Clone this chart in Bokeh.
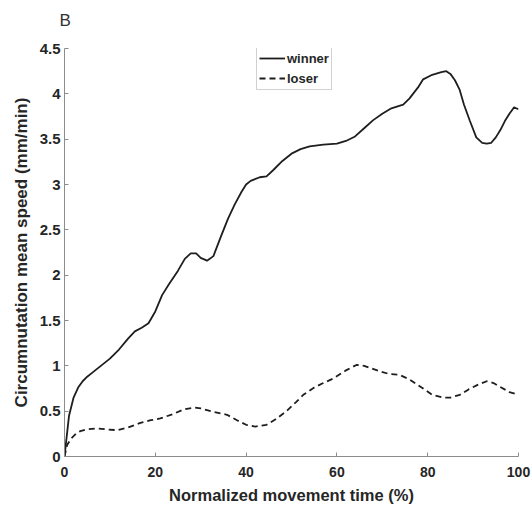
from bokeh.plotting import figure
from bokeh.models import Range1d, FixedTicker, Legend, LegendItem
from bokeh.embed import file_html
from bokeh.resources import INLINE

# ---- data ----
winner_x = [0, 1, 2, 3, 4, 5, 6, 8, 10, 12, 14, 15.5, 17, 18.5, 20, 21.5, 23, 25, 26.5, 27.8,
            29, 30, 31.4, 32.8, 34.4, 36, 37.5, 39, 40, 41, 43, 44.5, 46, 48, 50, 52, 54, 57,
            60, 62, 64, 66, 68, 70, 72, 74.6, 76, 78, 79, 81, 83, 84.1, 85, 86, 87, 88, 89.3,
            90.7, 92, 93, 94, 95, 96, 97, 98, 99, 100]
winner_y = [0, 0.45, 0.65, 0.76, 0.83, 0.88, 0.92, 1.00, 1.08, 1.18, 1.30, 1.38, 1.42, 1.47,
            1.60, 1.78, 1.90, 2.05, 2.18, 2.24, 2.24, 2.19, 2.16, 2.21, 2.42, 2.62, 2.78, 2.92,
            3.00, 3.04, 3.08, 3.09, 3.16, 3.26, 3.34, 3.39, 3.42, 3.44, 3.45, 3.48, 3.53, 3.62,
            3.71, 3.78, 3.84, 3.88, 3.95, 4.08, 4.16, 4.21, 4.24, 4.25, 4.22, 4.15, 4.05, 3.88,
            3.70, 3.52, 3.46, 3.45, 3.46, 3.52, 3.60, 3.70, 3.78, 3.85, 3.83]

loser_x = [0, 0.6, 1.5, 2.5, 3.5, 5, 7.2, 9, 11.6, 14, 16.7, 19, 21.1, 24, 26.3, 28.5, 30, 33,
           35.8, 38, 40, 42, 44.5, 46.5, 48.9, 51, 52.6, 55, 57, 59.2, 62, 64.3, 66, 69.5, 71.5,
           73.8, 76, 79, 81, 83.4, 85, 87.1, 89, 91, 93, 94.5, 95.9, 98, 100]
loser_y = [0, 0.13, 0.20, 0.25, 0.28, 0.30, 0.31, 0.30, 0.29, 0.32, 0.37, 0.40, 0.42, 0.47,
           0.52, 0.54, 0.53, 0.49, 0.46, 0.40, 0.35, 0.33, 0.35, 0.41, 0.50, 0.60, 0.68, 0.76,
           0.81, 0.86, 0.95, 1.01, 1.00, 0.94, 0.91, 0.90, 0.85, 0.75, 0.68, 0.65, 0.65, 0.68,
           0.74, 0.79, 0.83, 0.81, 0.77, 0.71, 0.68]

x_ticks = [0, 20, 40, 60, 80, 100]
y_ticks = [0, 0.5, 1, 1.5, 2, 2.5, 3, 3.5, 4, 4.5]
series_names = ["winner", "loser"]
panel_label = "B"
x_label = "Normalized movement time (%)"
y_label = "Circumnutation mean speed (mm/min)"

FONT = "Liberation Sans"
TXT = "#262626"
AXC = "#8c8c8c"
LINE = "#1e1e1e"

p = figure(width=532, height=508, output_backend="svg", toolbar_location=None,
           x_range=Range1d(0, 100), y_range=Range1d(0, 4.5),
           min_border_left=64, min_border_right=14, min_border_top=48, min_border_bottom=52,
           background_fill_color="white", border_fill_color="white")
p.outline_line_color = None
p.grid.visible = False

# panel letter; the trailing empty line lifts it above the frame
p.title.text = panel_label + "\n"
p.title.text_font = FONT
p.title.text_font_size = "17px"
p.title.text_font_style = "normal"
p.title.text_color = "#333333"
p.title.align = "left"
p.title.offset = -5
p.title.standoff = 0

for ax in (p.xaxis[0], p.yaxis[0]):
    ax.axis_line_color = AXC
    ax.axis_line_width = 1
    ax.major_tick_line_color = AXC
    ax.major_tick_in = 4
    ax.major_tick_out = 0
    ax.minor_tick_line_color = None
    ax.major_label_text_font = FONT
    ax.major_label_text_font_style = "bold"
    ax.major_label_text_color = TXT
    ax.axis_label_text_font = FONT
    ax.axis_label_text_font_style = "bold"
    ax.axis_label_text_color = TXT

p.xaxis.ticker = FixedTicker(ticks=x_ticks)
p.yaxis.ticker = FixedTicker(ticks=y_ticks)
p.xaxis.major_label_overrides = {t: str(t) for t in x_ticks}
p.yaxis.major_label_overrides = {t: ("%g" % t) for t in y_ticks}
p.xaxis.major_label_text_font_size = "14px"
p.yaxis.major_label_text_font_size = "15px"
p.xaxis.major_label_standoff = 10
p.yaxis.major_label_standoff = 4
p.xaxis.axis_label = x_label
p.yaxis.axis_label = y_label
p.xaxis.axis_label_text_font_size = "16.5px"
p.yaxis.axis_label_text_font_size = "17px"
p.xaxis.axis_label_standoff = 6
p.yaxis.axis_label_standoff = 6

r_w = p.line(winner_x, winner_y, line_color=LINE, line_width=1.8, line_join="round")
r_l = p.line(loser_x, loser_y, line_color=LINE, line_width=1.8, line_dash="6 4", line_join="round")

legend = Legend(items=[LegendItem(label=series_names[0], renderers=[r_w]),
                       LegendItem(label=series_names[1], renderers=[r_l])],
                location=(192, 366), orientation="vertical")
legend.label_text_font = FONT
legend.label_text_font_style = "bold"
legend.label_text_font_size = "13px"
legend.label_text_color = TXT
legend.glyph_width = 26
legend.glyph_height = 18
legend.label_height = 18
legend.label_standoff = 2
legend.padding = 2
legend.spacing = 2
legend.margin = 0
legend.border_line_color = "#a6a6a6"
legend.border_line_width = 1
legend.background_fill_color = "white"
legend.background_fill_alpha = 1
p.add_layout(legend)

open("out.html", "w").write(file_html(p, INLINE))
